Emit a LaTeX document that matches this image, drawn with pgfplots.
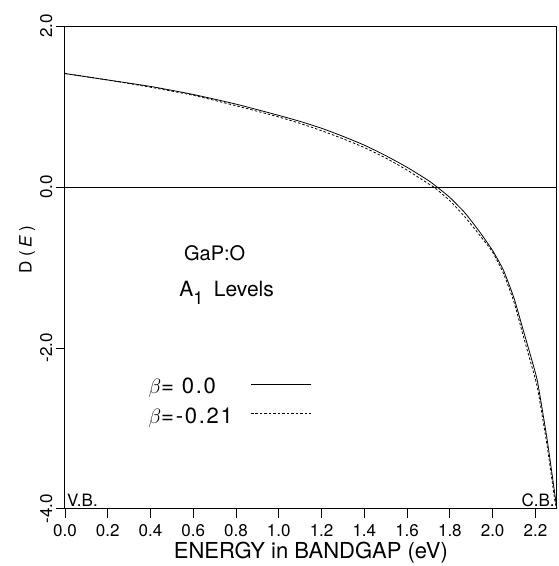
\documentclass[border=0pt]{standalone}
\usepackage{pgfplots}
\pgfplotsset{compat=1.18}
\usepackage{fontspec}
\setmainfont{TeX Gyre Heros}
\newfontfamily\widefont[LetterSpace=8]{TeX Gyre Heros}
\begin{document}
\begin{tikzpicture}
\begin{axis}[
  scale only axis,
  width=492pt, height=483pt,
  xmin=0, xmax=2.3, ymin=-4, ymax=2,
  axis line style={line width=1pt},
  xtick={0,0.2,0.4,0.6,0.8,1.0,1.2,1.4,1.6,1.8,2.0,2.2},
  ytick={-4,-2,0,2},
  xtick pos=bottom, ytick pos=left,
  tick align=outside,
  major tick length=9pt,
  tick style={line width=0.8pt, black},
  /pgf/number format/assume math mode=true,
  /pgf/number format/fixed,
  /pgf/number format/fixed zerofill,
  /pgf/number format/precision=1,
  yticklabel style={rotate=90, anchor=south, font=\fontsize{17}{17}\selectfont},
  xticklabel style={font=\fontsize{17}{17}\selectfont, yshift=-3pt},
  xlabel={ENERGY in BANDGAP (eV)},
  xlabel style={font=\fontsize{22}{22}\selectfont, yshift=2pt},
  ylabel={D\hspace{0.3em}(\hspace{0.2em}\textit{E}\hspace{0.25em})},
  ylabel style={font=\fontsize{17}{17}\selectfont, at={(ticklabel cs:0.537)}, yshift=-2pt},
  clip=false,
]
\path[use as bounding box] (rel axis cs:-0.1321,-0.118) rectangle (rel axis cs:1.004,1.054);
\addplot[black, line width=0.8pt] coordinates {(0,0) (2.3,0)};
\addplot[black, line width=0.8pt, smooth, tension=0.3] coordinates {
(0,1.41)(0.2,1.33)(0.4,1.25)(0.6,1.15)(0.8,1.03)(1.0,0.89)(1.1,0.815)(1.2,0.73)(1.3,0.63)(1.4,0.52)(1.5,0.39)(1.6,0.245)(1.7,0.08)(1.74,0.0)(1.8,-0.13)(1.87,-0.32)(1.94,-0.56)(2.0,-0.79)(2.05,-1.03)(2.1,-1.38)(2.14,-1.75)(2.18,-2.12)(2.21,-2.42)(2.255,-3.14)(2.29,-3.8)(2.30,-4.0)};
\addplot[black, line width=0.8pt, dash pattern=on 2.5pt off 2pt, smooth, tension=0.3] coordinates {
(0,1.41)(0.2,1.33)(0.4,1.24)(0.6,1.14)(0.8,1.01)(1.0,0.87)(1.1,0.79)(1.2,0.70)(1.3,0.60)(1.4,0.49)(1.5,0.36)(1.6,0.21)(1.7,0.04)(1.725,0.0)(1.8,-0.17)(1.87,-0.37)(1.94,-0.60)(2.0,-0.81)(2.05,-1.07)(2.1,-1.43)(2.14,-1.82)(2.18,-2.20)(2.21,-2.50)(2.255,-3.22)(2.29,-3.88)(2.30,-4.0)};
% legend samples
\addplot[black, line width=0.8pt] coordinates {(0.87,-2.45)(1.15,-2.45)};
\addplot[black, line width=0.8pt, dash pattern=on 2.5pt off 2pt] coordinates {(0.87,-2.81)(1.15,-2.81)};
\node[anchor=west, font=\widefont\fontsize{22}{22}\selectfont, inner sep=0pt] at (axis cs:0.39,-2.50) {$\beta$= 0.0};
\node[anchor=west, font=\widefont\fontsize{22}{22}\selectfont, inner sep=0pt] at (axis cs:0.39,-2.87) {$\beta$=-0.21};
\node[font=\fontsize{20}{20}\selectfont] at (axis cs:0.70,-0.82) {GaP:O};
\node[font=\fontsize{21}{21}\selectfont] at (axis cs:0.756,-1.32) {A\raisebox{-0.38em}{\fontsize{18}{18}\selectfont 1}\hspace{0.5em}Levels};
\node[anchor=south west, inner sep=2pt, font=\fontsize{17}{17}\selectfont] at (axis cs:0,-4) {V.B.};
\node[anchor=south east, inner sep=2pt, font=\fontsize{17}{17}\selectfont] at (axis cs:2.3,-4) {C.B.};
\end{axis}
\end{tikzpicture}
\end{document}
